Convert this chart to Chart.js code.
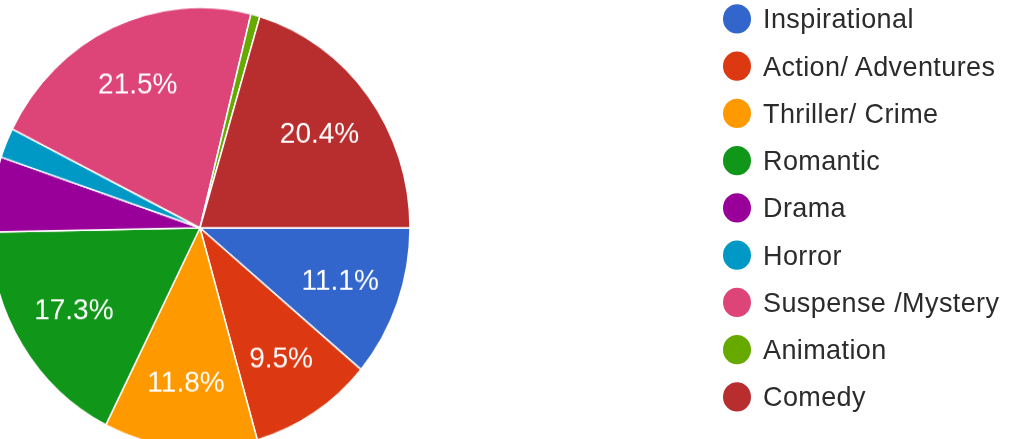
<!DOCTYPE html>
<html lang="en">

<head>
    <meta charset="UTF-8">
    <title>Genres</title>
    <script src="https://cdn.jsdelivr.net/npm/chart.js@4.4.1/dist/chart.umd.min.js"></script>
    <style>
        html, body { margin: 0; padding: 0; background: #fff; overflow: hidden; width: 1024px; height: 439px; }
        /* the reference picture is slightly stretched vertically */
        #wrap { position: absolute; left: -10px; top: 0; width: 1034px; height: 440px;
                transform: scaleY(1.05); transform-origin: 0 0; }
        #chart { position: absolute; left: 0; top: 0; }
        #legend { position: absolute; left: 733px; top: 0; font-family: "Liberation Sans", Arial, sans-serif;
                  font-size: 27px; letter-spacing: 0.4px; color: #2b2b2b; }
        .item { position: absolute; left: 0; height: 30px; white-space: nowrap; }
        .dot { position: absolute; left: 0; top: 1px; width: 28px; height: 28px; border-radius: 50%; }
        .txt { position: absolute; left: 40px; top: 0; line-height: 30px; }
    </style>
</head>

<body>
    <div id="wrap">
        <canvas id="chart" width="1034" height="440"></canvas>
        <div id="legend"></div>
    </div>

    <script>
        // genres and their share of answers
        const genres = ['Inspirational', 'Action/ Adventures', 'Thriller/ Crime', 'Romantic', 'Drama',
            'Horror', 'Suspense /Mystery', 'Animation', 'Comedy'];
        const shares = [11.1, 9.5, 11.8, 17.3, 5.5, 2.2, 21.5, 0.7, 20.4];
        const colors = ['#3366cc', '#dc3912', '#ff9900', '#109618', '#990099',
            '#0099c6', '#dd4477', '#66aa00', '#b82e2e'];

        // write the percentage inside the bigger slices
        const sliceLabels = {
            id: 'sliceLabels',
            afterDatasetsDraw(chart) {
                const ctx = chart.ctx;
                const meta = chart.getDatasetMeta(0);
                const data = chart.data.datasets[0].data;
                const total = data.reduce((a, b) => a + b, 0);
                ctx.save();
                ctx.fillStyle = '#ffffff';
                ctx.font = '28px "Liberation Sans", Arial, sans-serif';
                ctx.textAlign = 'center';
                ctx.textBaseline = 'middle';
                meta.data.forEach((arc, i) => {
                    const pct = data[i] / total * 100;
                    if (pct < 8) return;
                    const p = arc.getProps(['x', 'y', 'startAngle', 'endAngle', 'outerRadius'], true);
                    const mid = (p.startAngle + p.endAngle) / 2;
                    const r = p.outerRadius * 0.71;
                    ctx.fillText(pct.toFixed(1) + '%', p.x + Math.cos(mid) * r, p.y + Math.sin(mid) * r);
                });
                ctx.restore();
            }
        };

        new Chart(document.getElementById('chart'), {
            type: 'pie',
            data: {
                labels: genres,
                datasets: [{
                    data: shares,
                    backgroundColor: colors,
                    borderColor: '#ffffff',
                    borderWidth: 1.5
                }]
            },
            options: {
                responsive: false,
                animation: false,
                rotation: 90,
                radius: 210,
                layout: { padding: { left: 0, right: 614, top: 7, bottom: 13 } },
                plugins: {
                    legend: { display: false },
                    tooltip: { enabled: false }
                }
            },
            plugins: [sliceLabels]
        });

        // legend on the right, one row per genre
        const legend = document.getElementById('legend');
        genres.forEach((g, i) => {
            const row = document.createElement('div');
            row.className = 'item';
            row.style.top = (3 + i * 45) + 'px';
            row.innerHTML = '<span class="dot" style="background:' + colors[i] + '"></span><span class="txt"></span>';
            row.querySelector('.txt').textContent = g;
            legend.appendChild(row);
        });
    </script>

</body>

</html>
